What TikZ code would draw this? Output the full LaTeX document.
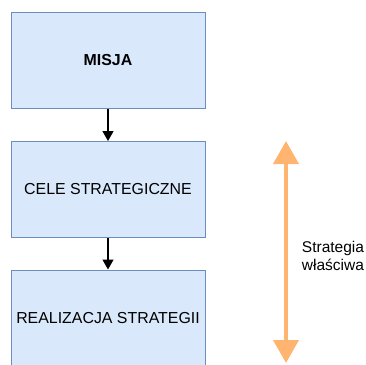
\documentclass[tikz,border=0pt]{standalone}
\usepackage{fontspec}
\setmainfont{Liberation Sans}
\usetikzlibrary{arrows.meta}
\definecolor{boxfill}{HTML}{DAE8FC}
\definecolor{boxline}{HTML}{6C8EBF}
\definecolor{spanorange}{HTML}{FFB570}
\begin{document}
\begin{tikzpicture}[x=1pt,y=-1pt,
  stage/.style={draw=boxline,fill=boxfill,line width=1pt,minimum width=194pt,
    minimum height=96pt,inner sep=0pt,font=\fontsize{15.9}{18}\selectfont},
  flow/.style={-{Triangle[length=10pt,width=11pt]},line width=1.3pt,black},
  span/.style={{Triangle[length=23pt,width=25pt]}-{Triangle[length=23pt,width=25pt]},
    line width=4pt,draw=spanorange}]
\useasboundingbox (0,0) rectangle (366,364);
\node[stage] (misja) at (108,60) {\textbf{MISJA}};
\node[stage] (cele) at (108,189.5) {CELE STRATEGICZNE};
\node[stage] (real) at (108,318) {REALIZACJA STRATEGII};
\draw[flow] (misja) -- (cele);
\draw[flow] (cele) -- (real);
\coordinate (top) at (286,141);
\coordinate (bot) at (286,363);
\draw[span] (top) -- (bot);
\node[align=left,inner sep=0pt,font=\fontsize{15.5}{18}\selectfont] (lab) at (333,256)
  {Strategia\\właściwa};
\end{tikzpicture}
\end{document}
